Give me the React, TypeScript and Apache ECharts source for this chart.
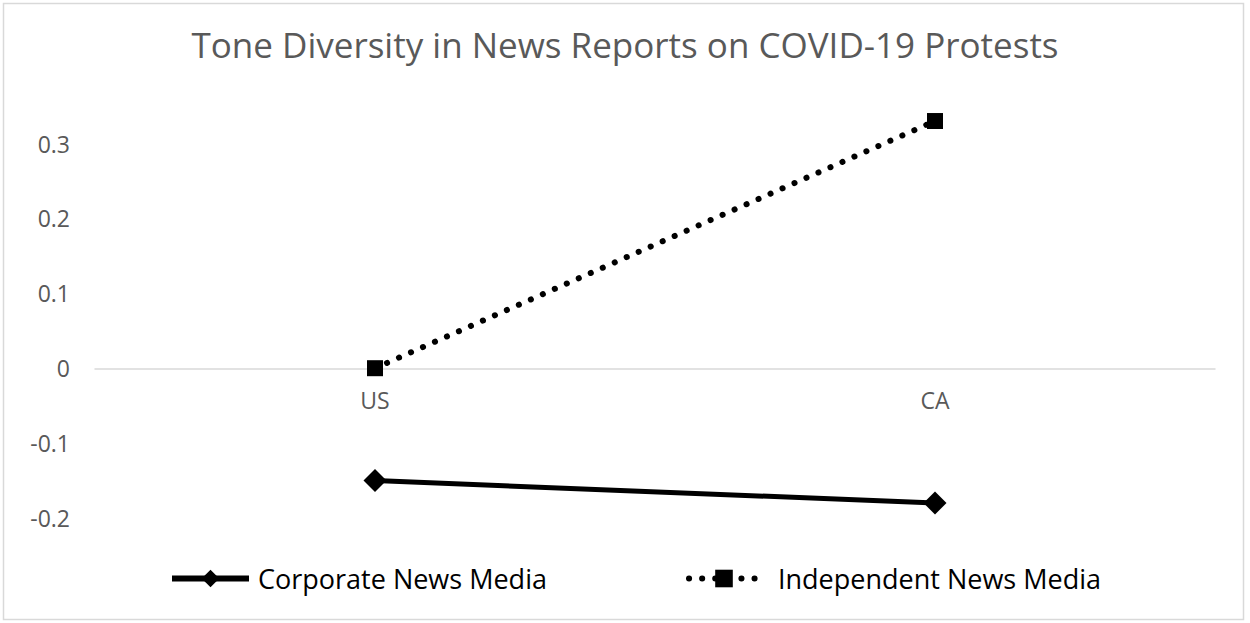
import React, { useEffect, useRef } from "react";
import * as echarts from "echarts";

const titleText = "Tone Diversity in News Reports on COVID-19 Protests";
const categories = ["US", "CA"];
const corporateName = "Corporate News Media";
const independentName = "Independent News Media";
const corporateValues = [-0.15, -0.18];
const independentValues = [0, 0.33];

const FONT = "'Open Sans', sans-serif";

export default function App() {
  const ref = useRef<HTMLDivElement>(null);
  useEffect(() => {
    if (!ref.current) return;
    const chart = echarts.init(ref.current, null, { renderer: "svg" });
    chart.setOption({
      animation: false,
      backgroundColor: "#ffffff",
      textStyle: { fontFamily: FONT },
      title: {
        text: titleText,
        left: "center",
        top: 22,
        textStyle: { fontFamily: FONT, fontSize: 35, fontWeight: "normal", color: "#595959" },
      },
      graphic: [
        {
          type: "rect",
          shape: { x: 3.5, y: 3.5, width: 1240, height: 616 },
          style: { fill: "none", stroke: "#d9d9d9", lineWidth: 1.5 },
          silent: true,
        },
      ],
      legend: [
        {
          left: 169,
          top: 565,
          padding: 0,
          itemWidth: 77,
          itemHeight: 22,
          itemGap: 0,
          data: [corporateName],
          lineStyle: { width: 6 },
          textStyle: { fontFamily: FONT, fontSize: 27, color: "#000000", padding: [0, 0, 0, 4] },
        },
        {
          left: 686,
          top: 565,
          padding: 0,
          itemWidth: 70,
          itemHeight: 22,
          itemGap: 0,
          data: [independentName],
          lineStyle: { width: 6 },
          textStyle: { fontFamily: FONT, fontSize: 27, color: "#000000", padding: [0, 0, 0, 14] },
        },
      ],
      grid: { left: 95, right: 35, top: 143.5, bottom: 105, containLabel: false },
      xAxis: {
        type: "category",
        data: categories,
        boundaryGap: true,
        offset: -149.5,
        axisLine: { show: true, onZero: false, lineStyle: { color: "#d9d9d9", width: 1.5 } },
        axisTick: { show: false },
        axisLabel: { margin: 20, color: "#595959", fontSize: 23, fontFamily: FONT },
        splitLine: { show: false },
      },
      yAxis: {
        type: "value",
        min: -0.2,
        max: 0.3,
        interval: 0.1,
        axisLine: { show: false },
        axisTick: { show: false },
        splitLine: { show: false },
        axisLabel: { margin: 25, color: "#595959", fontSize: 23, fontFamily: FONT },
      },
      series: [
        {
          name: corporateName,
          type: "line",
          data: corporateValues,
          clip: false,
          symbol: "diamond",
          symbolSize: 23,
          itemStyle: { color: "#000000" },
          lineStyle: { color: "#000000", width: 5 },
        },
        {
          name: independentName,
          type: "line",
          data: independentValues,
          clip: false,
          symbol: "rect",
          symbolSize: 16,
          itemStyle: { color: "#000000" },
          lineStyle: { color: "#000000", width: 6, type: [0.1, 13], cap: "round" },
        },
      ],
    });
    return () => chart.dispose();
  }, []);
  return (
    <div
      ref={ref}
      style={{ position: "fixed", left: 0, top: 0, width: 1250, height: 623 }}
    />
  );
}
